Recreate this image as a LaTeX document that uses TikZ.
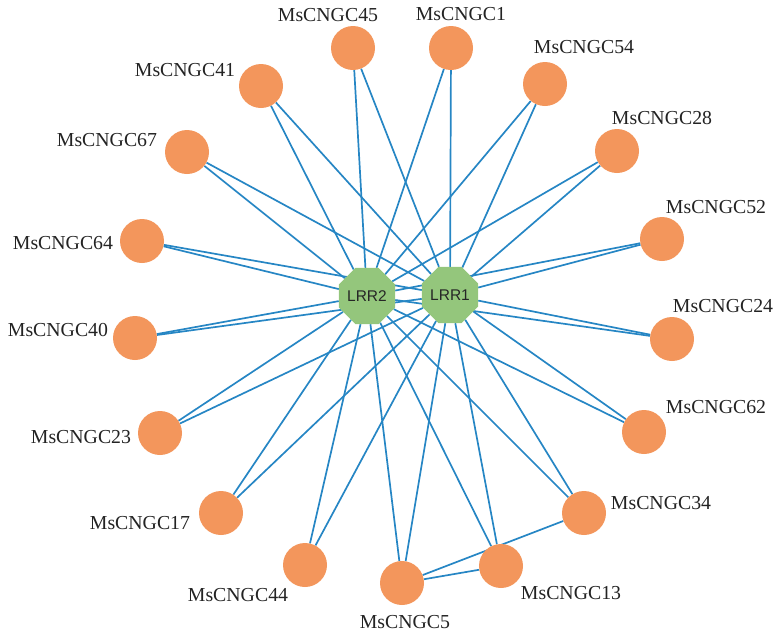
\documentclass[tikz,border=0pt]{standalone}
\usepackage{fontspec}
\setmainfont{Liberation Serif}
\newfontfamily\hubfont{Liberation Sans}
\usetikzlibrary{shapes.geometric,backgrounds}
\definecolor{cngc}{RGB}{243,150,92}
\definecolor{hub}{RGB}{148,198,124}
\definecolor{edgeblue}{RGB}{38,134,196}
\definecolor{labeltext}{RGB}{35,35,35}
\tikzset{
  gene/.style={circle,fill=cngc,draw=none,minimum size=44pt,inner sep=0pt},
  hubnode/.style={regular polygon,regular polygon sides=8,fill=hub,draw=none,minimum size=58pt,inner sep=0pt,font=\hubfont\fontsize{15.5}{17}\selectfont,text=black!85},
  lab/.style={font=\fontsize{19.8}{22}\selectfont,text=labeltext,inner sep=0pt},
  link/.style={draw=edgeblue,line width=1.7pt}
}
\begin{document}
\begin{tikzpicture}[x=1pt,y=-1pt]
\useasboundingbox (0,0) rectangle (776,633);
\node[hubnode] (lrr2) at (367,296) {LRR2};
\node[hubnode] (lrr1) at (450,295) {LRR1};
\foreach \n/\x/\y in {
  c45/353/48, c1/451/48, c54/545/84,
  c41/261/86, c67/187/152, c28/617/151,
  c64/142/241, c40/135/338, c23/160/433,
  c52/662/239, c24/672/339, c62/644/432,
  c34/584/513, c13/501/566, c5/402/583,
  c17/221/513, c44/305/565}{
  \node[gene] (\n) at (\x,\y) {};
}
\node[lab] (l45) at (328,15) {MsCNGC45};
\node[lab] (l1) at (461,14) {MsCNGC1};
\node[lab] (l54) at (584,47) {MsCNGC54};
\node[lab] (l41) at (185,70) {MsCNGC41};
\node[lab] (l67) at (107,140) {MsCNGC67};
\node[lab] (l28) at (662,118) {MsCNGC28};
\node[lab] (l64) at (63,243) {MsCNGC64};
\node[lab] (l40) at (58,330) {MsCNGC40};
\node[lab] (l23) at (81,437) {MsCNGC23};
\node[lab] (l52) at (716,207) {MsCNGC52};
\node[lab] (l24) at (723,306) {MsCNGC24};
\node[lab] (l62) at (716,407) {MsCNGC62};
\node[lab] (l34) at (661,503) {MsCNGC34};
\node[lab] (l13) at (571,593) {MsCNGC13};
\node[lab] (l5) at (405,622) {MsCNGC5};
\node[lab] (l17) at (140,523) {MsCNGC17};
\node[lab] (l44) at (238,595) {MsCNGC44};
\begin{scope}[on background layer]
\foreach \n in {c45,c1,c54,c41,c67,c28,c64,c40,c23,c52,c24,c62,c34,c13,c5,c17,c44}{
  \draw[link] (\n) -- (lrr1);
  \draw[link] (\n) -- (lrr2);
}
\draw[link] (c5) -- (c13);
\draw[link] (c5) -- (c34);
\end{scope}
\end{tikzpicture}
\end{document}
